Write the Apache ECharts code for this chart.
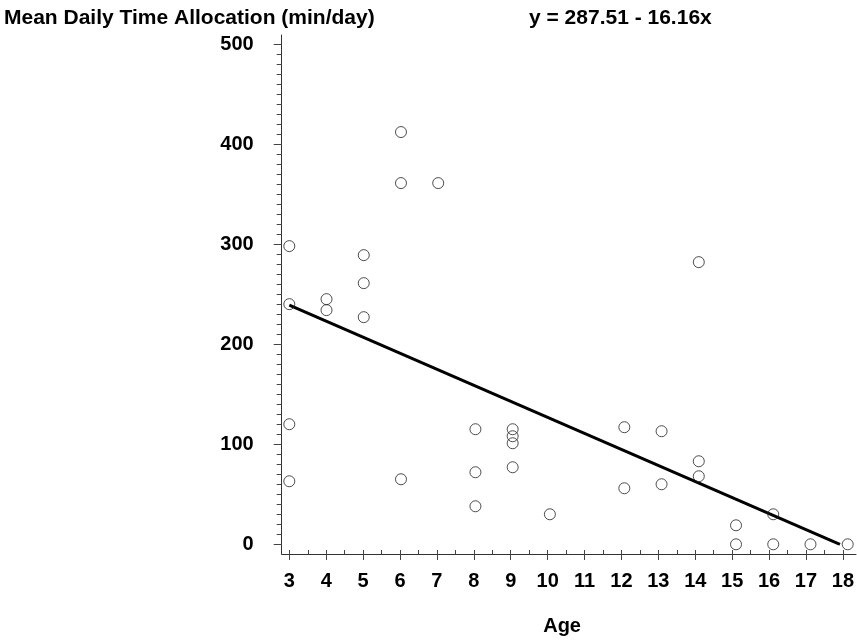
<!DOCTYPE html>
<html>
<head>
<meta charset="utf-8">
<script src="https://cdn.jsdelivr.net/npm/echarts@6/dist/echarts.min.js"></script>
<style>
  html, body { margin: 0; padding: 0; background: #fff; }
  #chart { width: 857px; height: 641px; }
</style>
</head>
<body>
<div id="chart"></div>
<script>
// data
const ages = [3, 3, 3, 3, 4, 4, 5, 5, 5, 6, 6, 6, 7, 8, 8, 8, 9, 9, 9, 9, 10, 12, 12, 13, 13, 14, 14, 14, 15, 15, 16, 16, 17, 18]
const minutes = [298, 240, 120, 63, 245, 234, 289, 261, 227, 412, 361, 65, 361, 115, 72, 38, 115, 108, 101, 77, 30, 117, 56, 113, 60, 282, 83, 68, 19, 0, 30, 0, 0, 0]
const intercept = 287.51
const slope = -16.16
const xTicks = [3, 18]
const yTicks = [0, 500]

const points = ages.map((a, i) => [a, minutes[i]])
// fitted line, from age 3 to where it reaches 0
const xEnd = -intercept / slope
const fitLine = [[xTicks[0], intercept + slope * xTicks[0]], [xEnd, 0]]

const font = 'Liberation Sans, Arial, sans-serif'
const ink = '#000'
const tickColor = '#444'
const hidden = {
  axisLine: {show: false}, axisTick: {show: false}, axisLabel: {show: false}, splitLine: {show: false}
}
const frame = {
  axisLine: {show: true, lineStyle: {color: '#333', width: 1}},
  axisTick: {show: false}, axisLabel: {show: false}, splitLine: {show: false}
}

const chart = echarts.init(document.getElementById('chart'), null, {renderer: 'canvas'})
chart.setOption({
  animation: false,
  backgroundColor: '#fff',
  title: [
    {
      text: 'Mean Daily Time Allocation (min/day)',
      left: 4, top: 8, padding: 0,
      textStyle: {fontFamily: font, fontSize: 21, fontWeight: 'bold', color: ink}
    },
    {
      text: 'y = 287.51 - 16.16x',
      left: 529, top: 8, padding: 0,
      textStyle: {fontFamily: font, fontSize: 21, fontWeight: 'bold', color: ink}
    }
  ],
  grid: [
    // 0: frame lines only
    {left: 281.7, right: 1, top: 35, bottom: 87},
    // 1: data area
    {left: 289.3, right: 9.3, top: 44, bottom: 96.7},
    // 2: x ticks and labels
    {left: 289.3, right: 9.3, top: 35, bottom: 87},
    // 3: y ticks and labels
    {left: 281.7, right: 9.3, top: 44, bottom: 96.7}
  ],
  xAxis: [
    Object.assign({gridIndex: 0, type: 'value', min: 0, max: 1}, frame),
    Object.assign({gridIndex: 1, type: 'value', min: xTicks[0], max: xTicks[1]}, hidden),
    {
      gridIndex: 2, type: 'value', min: xTicks[0], max: xTicks[1], interval: 1,
      name: 'Age', nameLocation: 'middle', nameGap: 66,
      nameTextStyle: {fontFamily: font, fontSize: 20, fontWeight: 'bold', color: ink, padding: [0, 8, 0, 0]},
      axisLine: {show: false},
      axisTick: {show: true, length: 10, lineStyle: {color: tickColor}},
      minorTick: {show: true, splitNumber: 2, length: 4, lineStyle: {color: tickColor}},
      axisLabel: {margin: 21, fontFamily: font, fontSize: 20, fontWeight: 'bold', color: ink},
      splitLine: {show: false}
    },
    Object.assign({gridIndex: 3, type: 'value', min: 0, max: 1}, hidden)
  ],
  yAxis: [
    Object.assign({gridIndex: 0, type: 'value', min: 0, max: 1}, frame),
    Object.assign({gridIndex: 1, type: 'value', min: yTicks[0], max: yTicks[1]}, hidden),
    Object.assign({gridIndex: 2, type: 'value', min: 0, max: 1}, hidden),
    {
      gridIndex: 3, type: 'value', min: yTicks[0], max: yTicks[1], interval: 100,
      axisLine: {show: false},
      axisTick: {show: true, length: 8, lineStyle: {color: tickColor}},
      minorTick: {show: true, splitNumber: 10, length: 5, lineStyle: {color: tickColor}},
      axisLabel: {margin: 28, padding: [5, 0, 0, 0], fontFamily: font, fontSize: 20, fontWeight: 'bold', color: ink},
      splitLine: {show: false}
    }
  ],
  series: [
    {
      name: 'fit',
      type: 'line',
      xAxisIndex: 1, yAxisIndex: 1,
      data: fitLine,
      symbol: 'none',
      lineStyle: {color: ink, width: 3},
      z: 2
    },
    {
      name: 'children',
      type: 'scatter',
      xAxisIndex: 1, yAxisIndex: 1,
      data: points,
      symbol: 'circle',
      symbolSize: 11,
      itemStyle: {color: 'rgba(0,0,0,0)', borderColor: '#222', borderWidth: 1},
      z: 3
    }
  ]
})
</script>
</body>
</html>
